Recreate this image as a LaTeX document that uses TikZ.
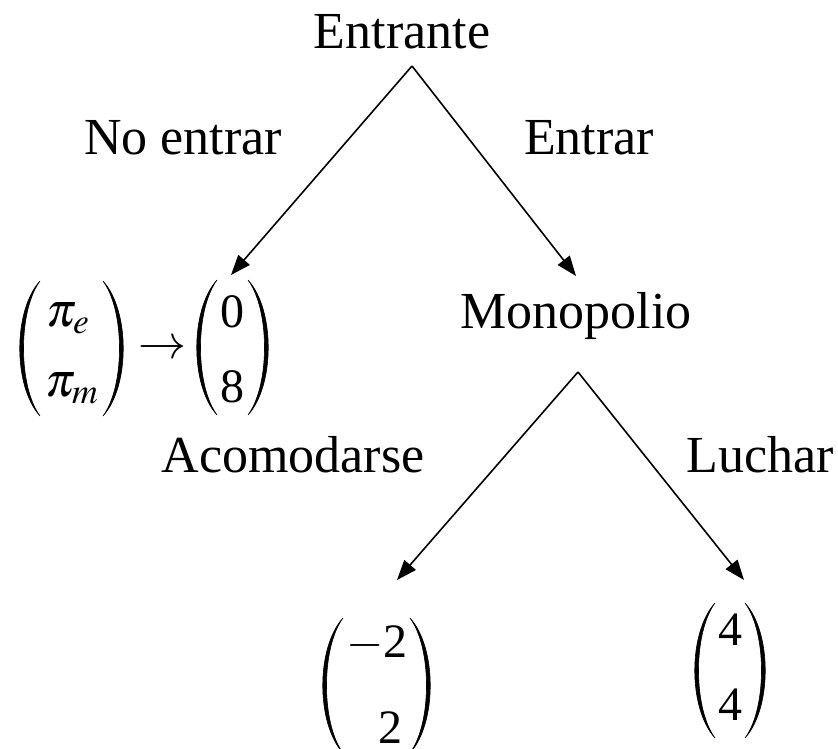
\documentclass[tikz,border=0pt]{standalone}
\usepackage{mathptmx}
\usepackage{fontspec}
\setmainfont{Liberation Serif}
\usetikzlibrary{arrows.meta}
\tikzset{
  lbl/.style={font=\fontsize{52}{60}\selectfont, inner sep=0pt, anchor=base},
  pay/.style={font=\fontsize{48}{56}\selectfont, inner sep=0pt},
  arr/.style={-{Triangle[length=20pt,width=15pt]}, line width=1.6pt},
  parstyle/.style={fill=black, draw=black, line width=0.6pt},
}
\newcommand\myparL[3]{%
  \path[parstyle] (#1,#2) .. controls (#1-27,{#2+0.22*(#3-#2)}) and (#1-27,{#3-0.22*(#3-#2)}) .. (#1,#3)
    .. controls (#1-22,{#3-0.22*(#3-#2)}) and (#1-22,{#2+0.22*(#3-#2)}) .. (#1,#2) -- cycle;}
\newcommand\myparR[3]{%
  \path[parstyle] (#1,#2) .. controls (#1+27,{#2+0.22*(#3-#2)}) and (#1+27,{#3-0.22*(#3-#2)}) .. (#1,#3)
    .. controls (#1+22,{#3-0.22*(#3-#2)}) and (#1+22,{#2+0.22*(#3-#2)}) .. (#1,#2) -- cycle;}
\begin{document}
\begin{tikzpicture}[x=1pt,y=-1pt]
\useasboundingbox (0,0) rectangle (838,749);
% labels
\node[lbl] (ent) at (402,49) {Entrante};
\node[lbl] (noent) at (183,155) {No entrar};
\node[lbl] (entrar) at (589,155) {Entrar};
\node[lbl] (mono) at (576,328) {Monopolio};
\node[lbl] (acom) at (293,472) {Acomodarse};
\node[lbl] (luch) at (760,472) {Luchar};
% branch points
\coordinate (a1) at (412,66);
\coordinate (t1) at (231,275);
\coordinate (t2) at (576,276);
\coordinate (a2) at (578,372);
\coordinate (t3) at (397,580);
\coordinate (t4) at (744,580);
% payoff entries
\node[pay] (pie) at (68,318) {$\pi_e$};
\node[pay] (pim) at (72,388) {$\pi_m$};
\node[pay] (to) at (162,350) {$\rightarrow$};
\node[pay] (z0) at (232,312) {0};
\node[pay] (z8) at (232,387) {8};
\node[pay] (m2) at (377,644) {$-$2};
\node[pay] (m2b) at (390,728) {2};
\node[pay] (f1) at (730,630) {4};
\node[pay] (f2) at (730,705) {4};
% parentheses
\myparL{40}{281}{416}\myparR{103}{281}{416}
\myparL{217}{280}{415}\myparR{248}{280}{415}
\myparL{343}{618}{753}\myparR{410}{618}{753}
\myparL{715}{603}{738}\myparR{745}{603}{738}
% arrows
\draw[arr] (a1) -- (t1);
\draw[arr] (a1) -- (t2);
\draw[arr] (a2) -- (t3);
\draw[arr] (a2) -- (t4);
\end{tikzpicture}
\end{document}
